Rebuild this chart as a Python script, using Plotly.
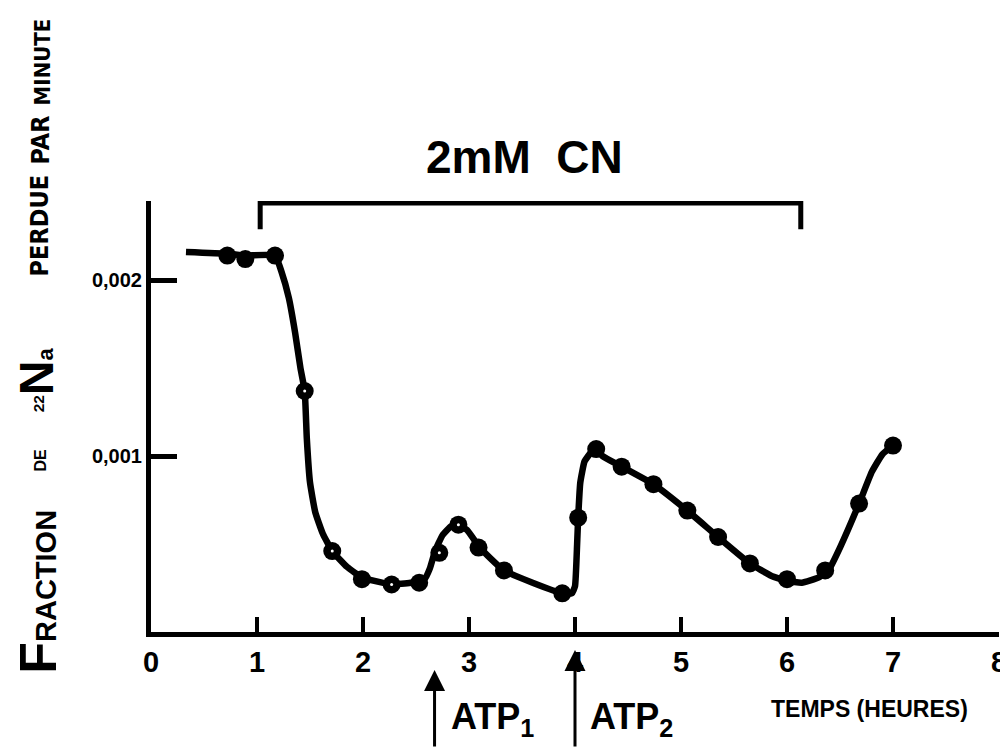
import plotly.graph_objects as go

# ---- data ----
time_h = [0.72, 0.89, 1.17, 1.45, 1.71, 1.99, 2.27, 2.53, 2.72, 2.90, 3.09, 3.33,
          3.88, 4.03, 4.20, 4.44, 4.74, 5.06, 5.35, 5.65, 6.00, 6.36, 6.68, 7.00]
fraction = [0.00214, 0.00212, 0.00214, 0.00137, 0.00046, 0.00030, 0.00027, 0.00028,
            0.00045, 0.00061, 0.00048, 0.00035, 0.00022, 0.00065, 0.00104, 0.00094,
            0.00084, 0.00069, 0.00054, 0.00039, 0.00030, 0.00035, 0.00073, 0.00106]
open_points = [3, 4, 6, 8, 9]  # points drawn with a white centre

curve_t = [0.33, 0.72, 0.89, 1.17, 1.23, 1.30, 1.36, 1.41, 1.45, 1.47, 1.50, 1.55,
           1.62, 1.71, 1.85, 1.99, 2.27, 2.45, 2.58, 2.63, 2.68, 2.75, 2.83, 2.90,
           2.98, 3.09, 3.20, 3.33, 3.60, 3.88, 3.97, 4.00, 4.02, 4.03, 4.05, 4.09,
           4.15, 4.20, 4.26, 4.44, 4.74, 5.06, 5.35, 5.65, 5.85, 6.00, 6.14, 6.30,
           6.40, 6.50, 6.68, 6.80, 6.90, 7.00]
curve_v = [0.00216, 0.00215, 0.00214, 0.00214, 0.00205, 0.00190, 0.00170, 0.00150,
           0.00137, 0.00110, 0.00085, 0.00068, 0.00056, 0.00046, 0.00037, 0.00031,
           0.00027, 0.00028, 0.00030, 0.00036, 0.00046, 0.00055, 0.00060, 0.00061,
           0.00058, 0.00049, 0.00042, 0.00035, 0.00028, 0.00022, 0.00022, 0.00026,
           0.00050, 0.00065, 0.00085, 0.00097, 0.00102, 0.00104, 0.00100, 0.00094,
           0.00084, 0.00069, 0.00054, 0.00039, 0.00032, 0.00029, 0.00028, 0.00031,
           0.00036, 0.00048, 0.00073, 0.00091, 0.00101, 0.00106]

x_ticks = [0, 1, 2, 3, 4, 5, 6, 7, 8]
y_ticks = [0.001, 0.002]
y_ticktext = ["0,001", "0,002"]

cn_start, cn_end = 1.03, 6.13
atp1_t, atp2_t = 2.675, 4.0

FONT = "Liberation Sans"
NARROW = "Liberation Sans Narrow, DejaVu Sans Condensed, Liberation Sans"

fig = go.Figure()
fig.add_trace(go.Scatter(x=curve_t, y=curve_v, mode="lines",
                         line=dict(color="black", width=6.5, shape="spline", smoothing=0.4),
                         hoverinfo="skip", showlegend=False))
fig.add_trace(go.Scatter(x=time_h, y=fraction, mode="markers",
                         marker=dict(color="black", size=18), showlegend=False))
fig.add_trace(go.Scatter(x=[time_h[i] for i in open_points],
                         y=[fraction[i] for i in open_points], mode="markers",
                         marker=dict(color="white", size=3), showlegend=False,
                         hoverinfo="skip"))

# the page has an 8 px body margin: figure is 1000x740 placed at (8, 8)
OFF = 8
W, H = 1000, 740
L, R, T, B = 143, 1, 193, 116
pw = W - L - R
ph = H - T - B


def px_x(p):  # page pixel -> paper x
    return (p - OFF - L) / pw


def px_y(p):  # page pixel -> paper y
    return (H - B - (p - OFF)) / ph


# bracket for cyanide
fig.add_shape(type="path", xref="x", yref="y",
              path=f"M {cn_start},0.00229 L {cn_start},0.002438 L {cn_end},0.002438 L {cn_end},0.00229",
              line=dict(color="black", width=5))

ann = []
ann.append(dict(text="2mM\u00a0\u00a0CN", xref="paper", yref="paper", x=px_x(528), y=px_y(157),
                xanchor="center", yanchor="middle", showarrow=False,
                font=dict(family=FONT, size=46, color="black", weight="bold")))
# ATP arrows
ann.append(dict(text="", xref="x", yref="paper", x=atp1_t, y=px_y(670), ax=0, ay=80,
                showarrow=True, arrowhead=2, arrowsize=1.4, arrowwidth=3, arrowcolor="black"))
ann.append(dict(text="", xref="x", yref="paper", x=atp2_t, y=px_y(650), ax=0, ay=100,
                showarrow=True, arrowhead=2, arrowsize=1.4, arrowwidth=3, arrowcolor="black"))
ann.append(dict(text="ATP<sub>1</sub>", xref="paper", yref="paper", x=px_x(452), y=px_y(694),
                xanchor="left", yanchor="top", showarrow=False,
                font=dict(family=FONT, size=36, color="black", weight="bold")))
ann.append(dict(text="ATP<sub>2</sub>", xref="paper", yref="paper", x=px_x(592), y=px_y(694),
                xanchor="left", yanchor="top", showarrow=False,
                font=dict(family=FONT, size=36, color="black", weight="bold")))
ann.append(dict(text="TEMPS (HEURES)", xref="paper", yref="paper", x=px_x(876), y=px_y(709),
                xanchor="center", yanchor="middle", showarrow=False,
                font=dict(family=FONT, size=23, color="black", weight="bold")))

# y-axis title, word by word (hand lettered): text, font, size, right-edge x, centre y
words = [
    ("<span style='font-size:52px'>F</span>RACTION", FONT, 29, 68, 592),
    ("DE", FONT, 16, 50, 460),
    ("<sup>22</sup><span style='font-size:48px'>N</span>a", FONT, 22, 64, 380),
    ("PERDUE", NARROW, 25, 56, 226),
    ("PAR", NARROW, 25, 56, 140),
    ("MINUTE", NARROW, 22, 56, 62),
]
for txt, fam, size, xr, yc in words:
    ann.append(dict(text=txt, xref="paper", yref="paper", x=px_x(xr), y=px_y(yc),
                    xanchor="right", yanchor="middle", textangle=-90, showarrow=False,
                    font=dict(family=fam, size=size, color="black", weight="bold")))

fig.update_layout(
    width=W, height=H,
    margin=dict(l=L, r=R, t=T, b=B, pad=0),
    paper_bgcolor="white", plot_bgcolor="white",
    annotations=ann,
    xaxis=dict(range=[0, 8.0], tickvals=x_ticks, ticktext=[str(v) for v in x_ticks],
               showgrid=False, zeroline=False, showline=True, linewidth=5, linecolor="black",
               ticks="inside", ticklen=15, tickwidth=4, tickcolor="black",
               tickfont=dict(family=FONT, size=29, color="black", weight="bold"),
               ticklabelstandoff=0, ticklabeloverflow="allow"),
    yaxis=dict(range=[0, 0.00245], tickvals=y_ticks, ticktext=y_ticktext,
               showgrid=False, zeroline=False, showline=True, linewidth=5, linecolor="black",
               ticks="inside", ticklen=26, tickwidth=5, tickcolor="black",
               tickfont=dict(family=FONT, size=20, color="black", weight="bold"),
               ticklabelstandoff=0),
)

fig.write_html("out.html")
